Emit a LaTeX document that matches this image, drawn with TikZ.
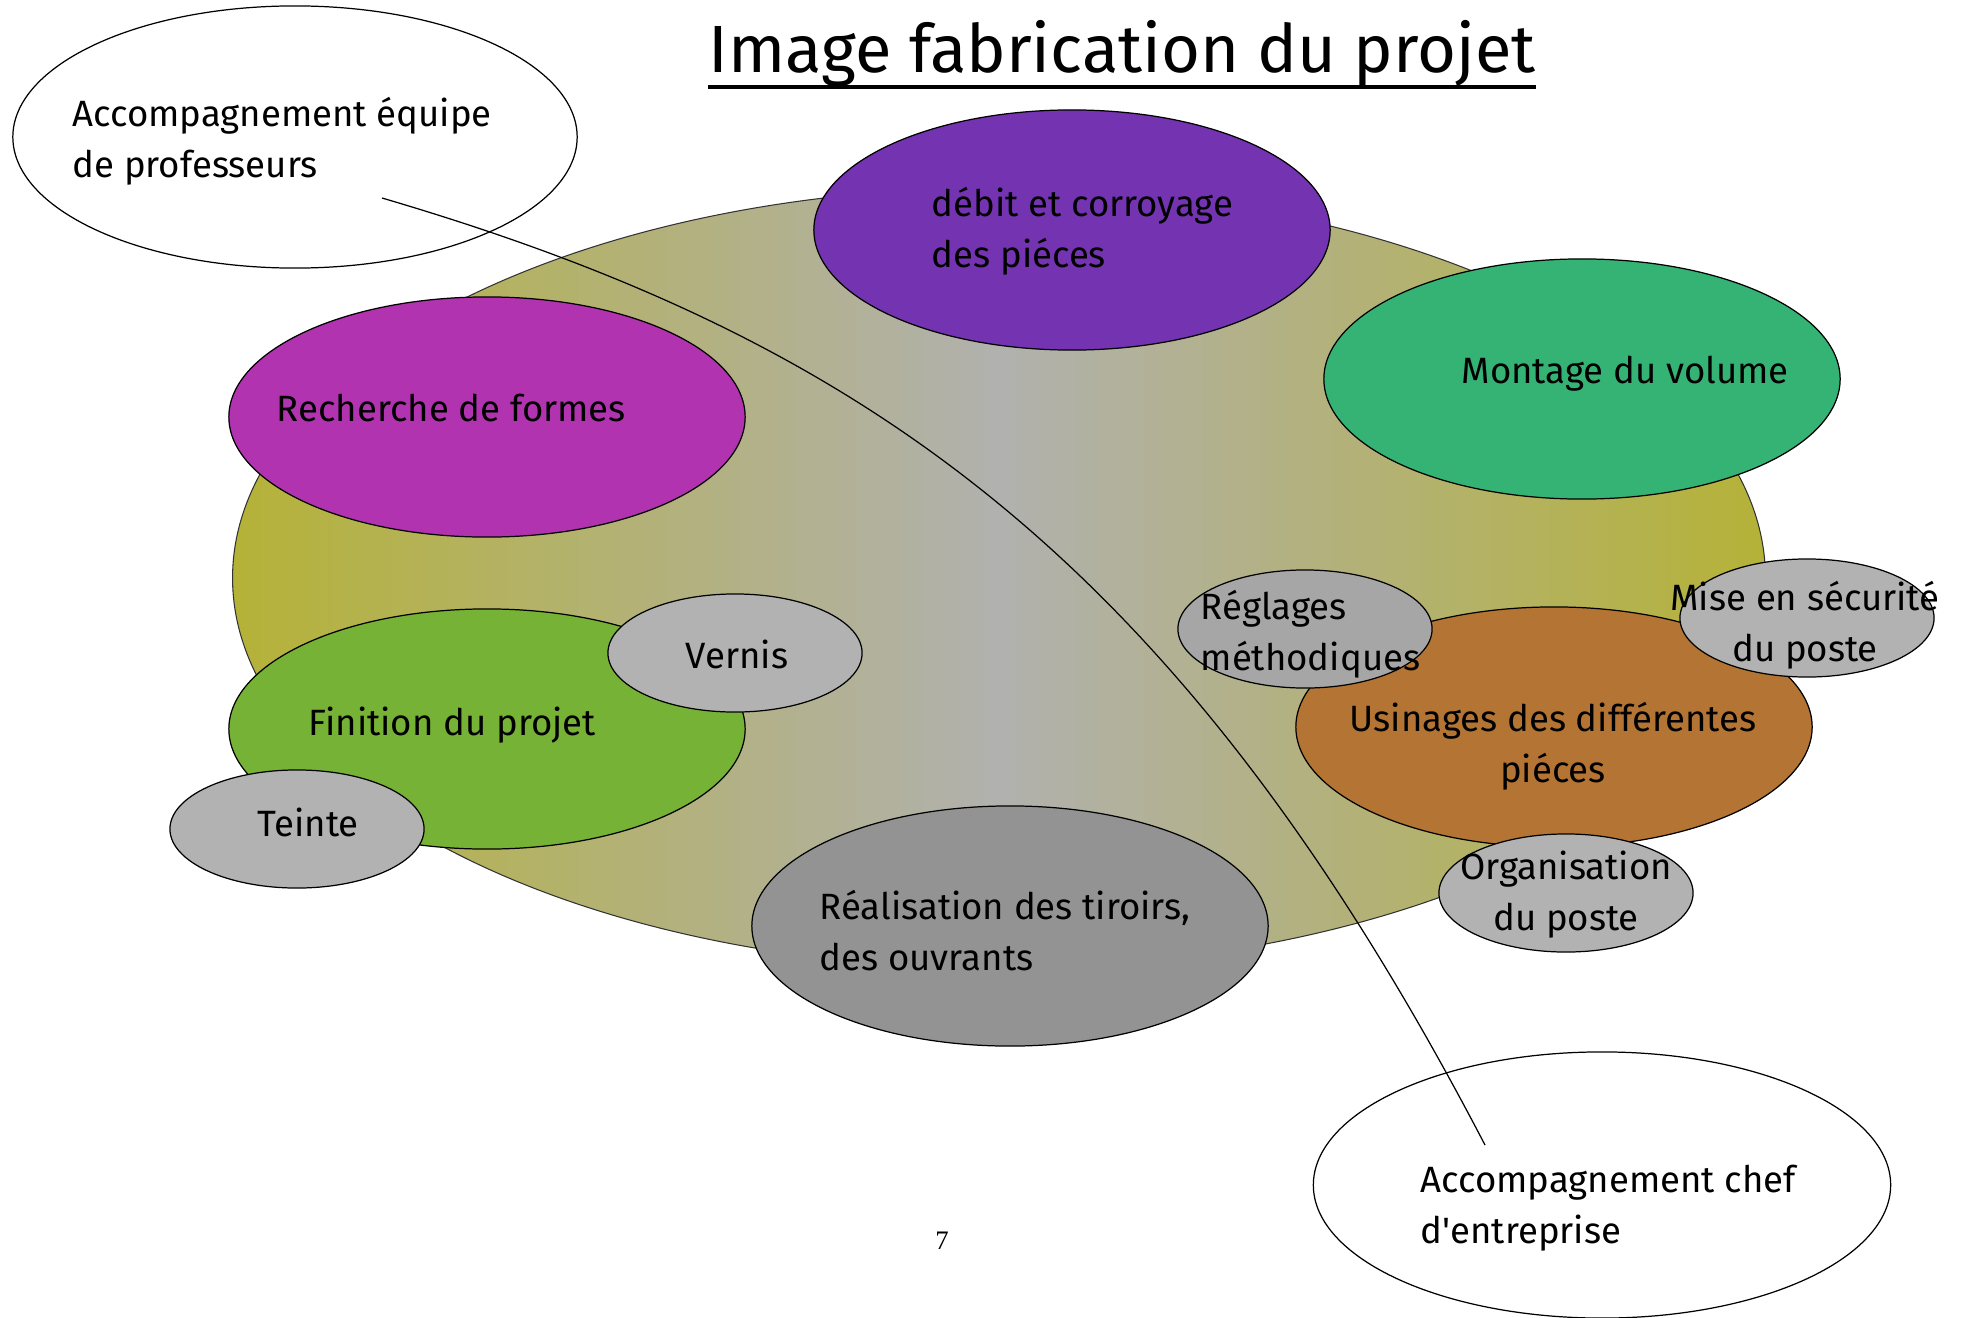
\documentclass[tikz,border=0pt]{standalone}
\usepackage{fontspec}
\setmainfont{Fira Sans}
\newfontfamily\qfont{Fira Sans}
\newfontfamily\numfont{Liberation Serif}
\usetikzlibrary{shapes.geometric}
\definecolor{olivedge}{RGB}{181,178,56}
\definecolor{centgray}{RGB}{177,177,175}
\definecolor{cpurple}{RGB}{116,51,176}
\definecolor{cgreen}{RGB}{53,179,116}
\definecolor{cmagenta}{RGB}{177,51,175}
\definecolor{clime}{RGB}{118,178,53}
\definecolor{cbrown}{RGB}{179,116,52}
\definecolor{cgray}{RGB}{178,178,178}
\definecolor{cdgray}{RGB}{147,147,147}
\definecolor{cmgray}{RGB}{166,166,166}
\tikzset{
  bub/.style={ellipse, draw=black, line width=0.35pt, inner sep=0pt},
  bigbub/.style={bub, minimum width=5.16cm, minimum height=2.40cm},
  smallbub/.style={bub, fill=cgray, minimum width=2.54cm, minimum height=1.18cm},
  callout/.style={bub, fill=white},
  lbl/.style={font=\fontsize{10.4}{14.4}\selectfont, inner sep=0pt, align=left},
  clbl/.style={font=\fontsize{10.4}{14.4}\selectfont, inner sep=0pt, align=center},
}
\begin{document}
\begin{tikzpicture}[x=0.01cm,y=-0.01cm]
\useasboundingbox[fill=white] (0,0) rectangle (1969,1318);
% background ellipse
\node[ellipse, draw=black!80, line width=0.3pt, inner sep=0pt,
      minimum width=15.32cm, minimum height=7.8cm,
      left color=olivedge, right color=olivedge, middle color=centgray] (bg) at (999,578) {};
% callouts
\node[callout, minimum width=5.64cm, minimum height=2.62cm] (prof) at (295,137) {};
\node[callout, minimum width=5.77cm, minimum height=2.66cm] (chef) at (1602,1185) {};
% big bubbles
\node[bigbub, fill=cpurple] (debit) at (1072,230) {};
\node[bigbub, fill=cgreen] (montage) at (1582,379) {};
\node[bigbub, fill=cmagenta] (recherche) at (487,417) {};
\node[bigbub, fill=clime] (finition) at (487,729) {};
\node[bigbub, fill=cdgray] (realisation) at (1010,926) {};
\node[bigbub, fill=cbrown] (usinages) at (1554,727) {};
% small bubbles
\node[smallbub] (vernis) at (735,653) {};
\node[smallbub] (teinte) at (297,829) {};
\node[smallbub, fill=cmgray] (reglages) at (1305,629) {};
\node[smallbub] (securite) at (1807,618) {};
\node[smallbub] (organisation) at (1566,893) {};
% title
\node[font=\fontsize{19}{23}\selectfont, anchor=base west, inner sep=0pt] (title) at (708,72) {Image fabrication du projet};
\draw[line width=1.2pt] ([yshift=-0.15cm]title.base west) -- ([yshift=-0.15cm]title.base east);
% labels (base anchor = baseline of the last line)
\node[lbl, anchor=base west] (tprof) at (72,177) {Accompagnement équipe\\de professeurs};
\node[lbl, anchor=base west] (tdebit) at (931,267) {débit et corroyage\\des piéces};
\node[lbl, anchor=base west] (tmontage) at (1461,383) {Montage du volume};
\node[lbl, anchor=base west] (trecherche) at (276,421) {Recherche de formes};
\node[lbl, anchor=base west] (tfinition) at (308,735) {Finition du projet};
\node[clbl, anchor=base] (tvernis) at (737,668) {Vernis};
\node[clbl, anchor=base] (tteinte) at (308,836) {Teinte};
\node[lbl, anchor=base west] (trealisation) at (819,970) {Réalisation des tiroirs,\\des ouvrants};
\node[clbl, anchor=base] (tusinages) at (1553,782) {Usinages des différentes\\piéces};
\node[lbl, anchor=base west] (treglages) at (1200,670) {Réglages\\méthodiques};
\node[clbl, anchor=base] (tsecurite) at (1805,661) {Mise en sécurité\\du poste};
\node[clbl, anchor=base] (torganisation) at (1566,930) {Organisation\\du poste};
\node[lbl, anchor=base west] (tchef) at (1420,1243) {Accompagnement chef\\d{\qfont'}entreprise};
\node[font=\numfont\fontsize{7.6}{9}\selectfont, anchor=base, inner sep=0pt] (pnum) at (942,1249) {7};
% connector
\coordinate (c1) at (382,198);
\coordinate (c2) at (1485,1145);
\draw[line width=0.35pt] (c1) .. controls (858,338) and (1176,552) .. (c2);
\end{tikzpicture}
\end{document}
